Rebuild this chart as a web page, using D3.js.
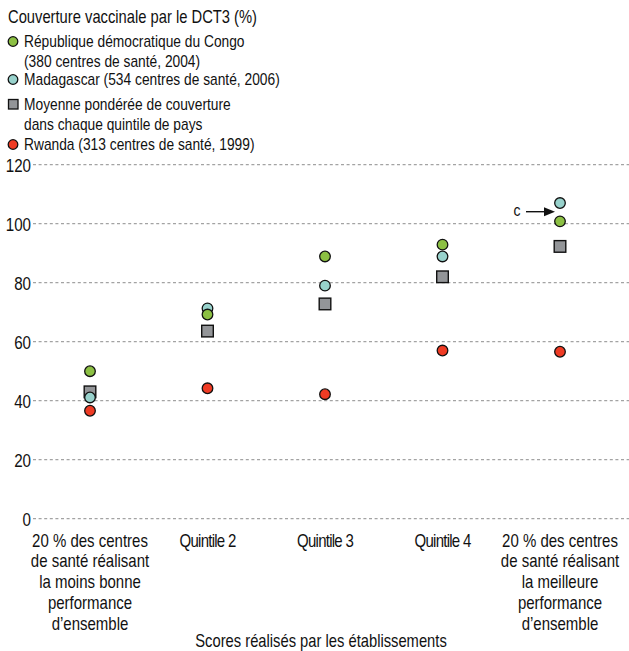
<!DOCTYPE html>
<html>
<head>
<meta charset="utf-8">
<script src="https://cdn.jsdelivr.net/npm/d3@7"></script>
<style>
  body { margin: 0; background: #fff; }
  svg text { font-family: "Liberation Sans", Arial, sans-serif; fill: #111; }
</style>
</head>
<body>
<div id="chart"></div>
<script>
// categories (lines of each x label)
var categories = ["q1", "q2", "q3", "q4", "q5"];
var categoryLabels = [
  ["20 % des centres", "de santé réalisant", "la moins bonne", "performance", "d’ensemble"],
  ["Quintile 2"],
  ["Quintile 3"],
  ["Quintile 4"],
  ["20 % des centres", "de santé réalisant", "la meilleure", "performance", "d’ensemble"]
];

// series values (%)
var rdc = [50, 69.2, 88.9, 92.9, 100.8];
var madagascar = [41.1, 71.3, 79, 88.9, 107];
var moyenne = [43, 63.6, 72.8, 82, 92.3];
var rwanda = [36.6, 44.2, 42.2, 57, 56.6];

var yTicks = [0, 20, 40, 60, 80, 100, 120];

var width = 629, height = 651;
var narrow = 0.82; // squeeze text to look like a condensed face

var svg = d3.select("#chart").append("svg")
  .attr("width", width)
  .attr("height", height);

// condensed text helper
function label(parent, px, py, str, size, anchor) {
  return parent.append("text")
    .attr("transform", "translate(" + px + "," + py + ") scale(" + narrow + ",1)")
    .attr("text-anchor", anchor || "start")
    .style("font-size", size + "px")
    .text(str);
}

var x = d3.scalePoint()
  .domain(categories)
  .range([90, 560]);

var y = d3.scaleLinear()
  .domain([0, 120])
  .range([518.7, 164.7]);

// legend
var legend = svg.append("g");
label(legend, 8, 23, "Couverture vaccinale par le DCT3 (%)", 18);

var legendItems = [
  { shape: "circle", color: "#8cc043", lines: ["République démocratique du Congo", "(380 centres de santé, 2004)"], y: 47 },
  { shape: "circle", color: "#98d2cc", lines: ["Madagascar (534 centres de santé, 2006)"], y: 85 },
  { shape: "square", color: "#939598", lines: ["Moyenne pondérée de couverture", "dans chaque quintile de pays"], y: 110 },
  { shape: "circle", color: "#ef3b24", lines: ["Rwanda (313 centres de santé, 1999)"], y: 150 }
];

legendItems.forEach(function (d) {
  if (d.shape === "circle") {
    legend.append("circle")
      .attr("cx", 13).attr("cy", d.y - 5.5).attr("r", 4.8)
      .attr("fill", d.color).attr("stroke", "#111").attr("stroke-width", 1.3);
  } else {
    legend.append("rect")
      .attr("x", 8.5).attr("y", d.y - 10.5).attr("width", 9.5).attr("height", 9.5)
      .attr("fill", d.color).attr("stroke", "#111").attr("stroke-width", 1.3);
  }
  d.lines.forEach(function (line, i) {
    label(legend, 24, d.y + i * 19.5, line, 16.8);
  });
});

// y ticks
var yAxis = d3.axisLeft(y)
  .tickValues(yTicks)
  .tickSize(0)
  .tickPadding(0);

var yg = svg.append("g")
  .attr("transform", "translate(31,0)")
  .call(yAxis);
yg.select(".domain").remove();
yg.selectAll("text")
  .attr("x", 0)
  .attr("dy", "0.36em")
  .attr("transform", "scale(" + narrow + ",1)")
  .style("font-size", "18.5px");

// dashed grid
svg.append("g")
  .selectAll("line")
  .data(yTicks)
  .enter()
  .append("line")
  .attr("x1", 33).attr("x2", width)
  .attr("y1", function (d) { return y(d); })
  .attr("y2", function (d) { return y(d); })
  .attr("stroke", "#a3a3a3")
  .attr("stroke-width", 1.3)
  .attr("stroke-dasharray", "3,2.6");

// x labels
var xl = svg.append("g");
categories.forEach(function (c, i) {
  var lines = categoryLabels[i];
  lines.forEach(function (line, j) {
    var t = label(xl, x(c), 546.5 + j * 20.8, line, 18.3, "middle");
    if (lines.length === 1) t.style("letter-spacing", "-0.9px");
  });
});

label(svg, 321, 647, "Scores réalisés par les établissements", 18, "middle");

// marks: squares first, then teal, green, red
var pts = svg.append("g");

pts.selectAll("rect")
  .data(moyenne)
  .enter()
  .append("rect")
  .attr("x", function (d, i) { return x(categories[i]) - 5.8; })
  .attr("y", function (d) { return y(d) - 5.8; })
  .attr("width", 11.6).attr("height", 11.6)
  .attr("fill", "#939598")
  .attr("stroke", "#111")
  .attr("stroke-width", 1.4);

function drawDots(values, color) {
  pts.append("g")
    .selectAll("circle")
    .data(values)
    .enter()
    .append("circle")
    .attr("cx", function (d, i) { return x(categories[i]); })
    .attr("cy", function (d) { return y(d); })
    .attr("r", 5.3)
    .attr("fill", color)
    .attr("stroke", "#111")
    .attr("stroke-width", 1.3);
}
drawDots(madagascar, "#98d2cc");
drawDots(rdc, "#8cc043");
drawDots(rwanda, "#ef3b24");

// annotation "c" with arrow
var ay = y((madagascar[4] + rdc[4]) / 2) - 0.5;
var ax = x(categories[4]);
label(svg, ax - 43, ay + 4.5, "c", 17, "middle");
svg.append("line")
  .attr("x1", ax - 34).attr("x2", ax - 14)
  .attr("y1", ay).attr("y2", ay)
  .attr("stroke", "#111").attr("stroke-width", 1.4);
svg.append("path")
  .attr("d", "M" + (ax - 5) + "," + ay + " L" + (ax - 16) + "," + (ay - 4.5) + " L" + (ax - 16) + "," + (ay + 4.5) + " Z")
  .attr("fill", "#111");
</script>
</body>
</html>
